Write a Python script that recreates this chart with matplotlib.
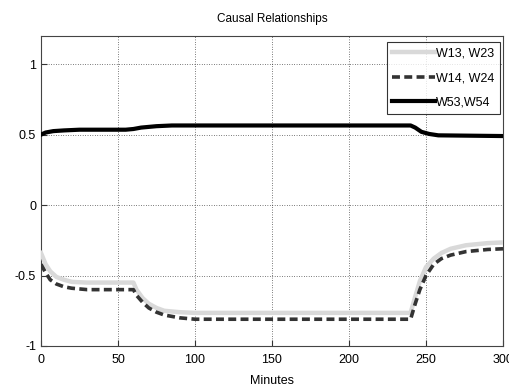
import matplotlib
matplotlib.use("Agg")
import matplotlib.pyplot as plt

plt.rcParams['font.family'] = ["Liberation Sans", "DejaVu Sans"]

# W13, W23
x_grey = [0, 3, 6, 10, 15, 20, 30, 60, 62, 66, 70, 75, 80, 90, 100, 240, 243, 246, 250, 255, 260, 266, 276, 290, 300]
y_grey = [-0.34, -0.42, -0.47, -0.51, -0.53, -0.545, -0.55, -0.55, -0.60, -0.66, -0.70, -0.73, -0.75, -0.76, -0.765,
          -0.765, -0.65, -0.54, -0.44, -0.38, -0.34, -0.31, -0.285, -0.27, -0.265]
# W14, W24
x_dash = [0, 3, 6, 10, 15, 20, 30, 60, 62, 66, 70, 75, 80, 90, 100, 240, 243, 246, 250, 255, 260, 266, 276, 290, 300]
y_dash = [-0.42, -0.48, -0.53, -0.56, -0.58, -0.59, -0.60, -0.60, -0.64, -0.69, -0.73, -0.76, -0.78, -0.80, -0.81,
          -0.81, -0.70, -0.60, -0.50, -0.42, -0.38, -0.355, -0.33, -0.315, -0.31]
# W53, W54
x_black = [0, 3, 8, 15, 25, 55, 60, 65, 75, 85, 240, 243, 247, 252, 258, 300]
y_black = [0.50, 0.515, 0.525, 0.53, 0.535, 0.535, 0.54, 0.55, 0.56, 0.565, 0.565, 0.55, 0.52, 0.505, 0.495, 0.49]

labels = ["W13, W23", "W14, W24", "W53,W54"]
xticks = [0, 50, 100, 150, 200, 250, 300]
yticks = [-1, -0.5, 0, 0.5, 1]
yticklabels = ["-1", "-0.5", "0", "0.5", "1"]

fig = plt.figure(figsize=(5.10, 3.92), dpi=100)
ax = fig.add_axes([41/510, 1 - 346/392, (503-41)/510, (346-36)/392])

ax.plot(x_grey, y_grey, color="#d9d9d9", lw=3.2, label=labels[0], zorder=3)
ax.plot(x_dash, y_dash, color="#333333", lw=2.6, ls=(0, (2.2, 1.2)), label=labels[1], zorder=4)
ax.plot(x_black, y_black, color="black", lw=3.0, label=labels[2], zorder=5)

ax.set_xlim(0, 300)
ax.set_ylim(-1, 1.2)
ax.set_xticks(xticks)
ax.set_yticks(yticks)
ax.set_yticklabels(yticklabels)
ax.grid(True, color="black", ls=(0, (1, 2.5)), lw=0.5)
ax.tick_params(direction="in", length=4, labelsize=9, colors="#333333", labelcolor="black")
ax.tick_params(axis="x", pad=6)
for s in ax.spines.values():
    s.set_color("#444444")
    s.set_linewidth(0.8)

ax.set_title("Causal Relationships", fontsize=8.5, pad=10)
ax.set_xlabel("Minutes", fontsize=9, labelpad=6)

leg = ax.legend(loc="upper right", bbox_to_anchor=(1 - 3/462, 1 - 6/310), fontsize=9,
                frameon=True, fancybox=False, edgecolor="black", borderaxespad=0,
                handlelength=3.4, handletextpad=0.1, labelspacing=1.0, borderpad=0.45)
leg.get_frame().set_linewidth(0.8)

fig.savefig("out.png", dpi=100)
